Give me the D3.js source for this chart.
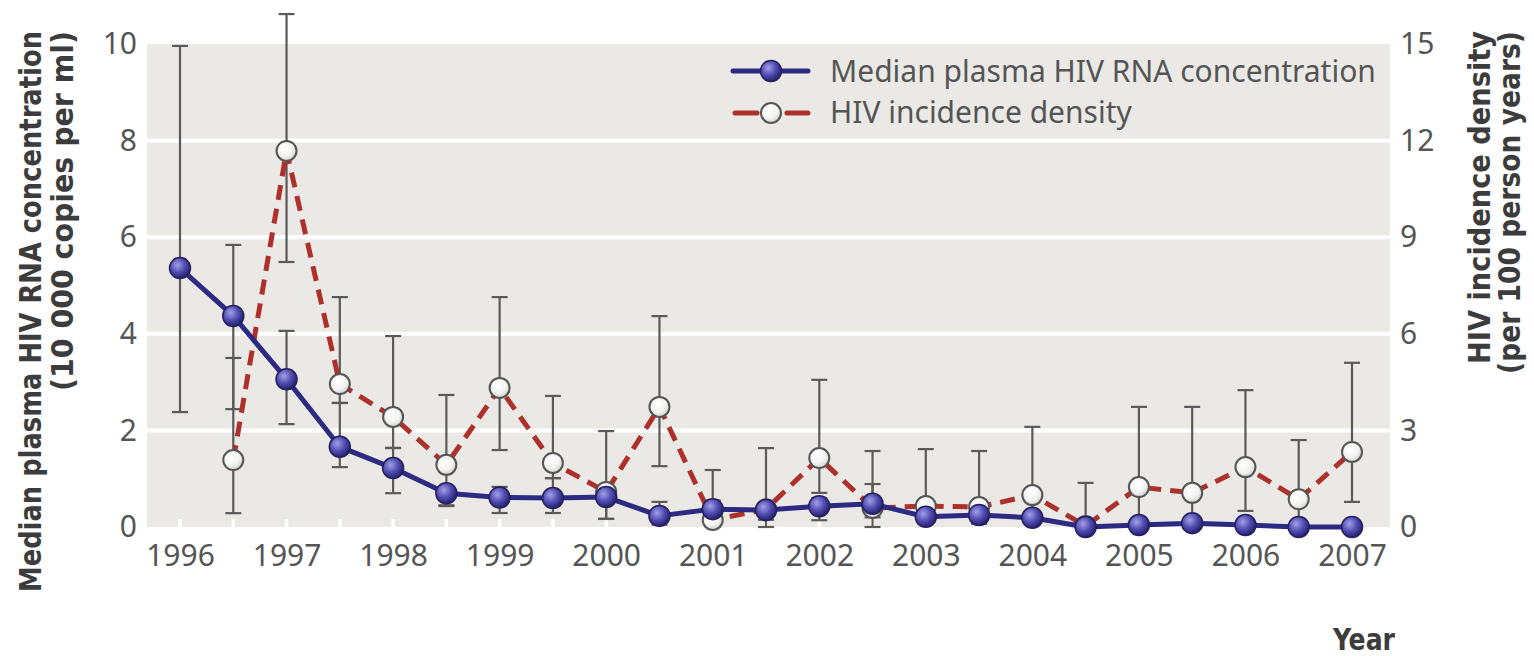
<!DOCTYPE html>
<meta charset="utf-8" />
<script src="https://d3js.org/d3.v7.min.js"></script>
<style>
  body { margin: 0; background: #fff; }
  text { font-family: "Noto Sans", "Open Sans", sans-serif; }
  .title { font-family: "Liberation Sans Narrow", "DejaVu Sans Condensed", sans-serif; font-weight: bold; fill: #3c3c3c; }
</style>

<svg width="1534" height="656" id="chart"></svg>

<script>
  // half-year time points
  var years = [1996, 1996.5, 1997, 1997.5, 1998, 1998.5, 1999, 1999.5, 2000, 2000.5, 2001, 2001.5,
               2002, 2002.5, 2003, 2003.5, 2004, 2004.5, 2005, 2005.5, 2006, 2006.5, 2007];

  // median plasma HIV RNA (10 000 copies per ml) with its interval
  var rna     = [5.36, 4.37, 3.06, 1.66, 1.22, 0.70, 0.61, 0.60, 0.62, 0.23, 0.37, 0.35,
                 0.43, 0.48, 0.21, 0.25, 0.19, 0.00, 0.04, 0.08, 0.04, 0.00, 0.00];
  var rnaLow  = [2.38, 2.44, 2.13, 1.24, 0.70, 0.45, 0.29, 0.29, 0.17, 0.05, 0.22, 0.15,
                 0.14, 0.20, 0.10, 0.10, 0.10, 0.00, 0.04, 0.08, 0.04, 0.00, 0.00];
  var rnaHigh = [9.96, 5.84, 4.06, 2.57, 1.64, 0.80, 0.83, 1.01, 0.75, 0.52, 0.55, 0.50,
                 0.60, 0.89, 0.35, 0.35, 0.25, 0.00, 0.04, 0.08, 0.04, 0.00, 0.00];

  // HIV incidence density (per 100 person years) with its interval
  var incidence = [null, 2.08, 11.68, 4.44, 3.42, 1.93, 4.32, 1.99, 1.09, 3.73, 0.22, 0.55,
                   2.14, 0.59, 0.65, 0.62, 0.99, 0.03, 1.24, 1.06, 1.86, 0.86, 2.33];
  var incLow    = [null, 0.43, 8.23, 3.85, 2.45, 0.65, 2.39, 1.52, 0.25, 1.89, 0.00, 0.00,
                   1.06, 0.00, 0.10, 0.10, 0.20, 0.00, 0.10, 0.10, 0.50, 0.00, 0.78];
  var incHigh   = [null, 5.25, 15.93, 7.14, 5.93, 4.10, 7.14, 4.07, 2.98, 6.55, 1.77, 2.45,
                   4.57, 2.36, 2.42, 2.36, 3.11, 1.37, 3.73, 3.73, 4.25, 2.70, 5.10];

  var yearTicks = [1996, 1997, 1998, 1999, 2000, 2001, 2002, 2003, 2004, 2005, 2006, 2007];
  var rnaTicks = [0, 2, 4, 6, 8, 10];
  var incTicks = [0, 3, 6, 9, 12, 15];
  var legendLabels = ["Median plasma HIV RNA concentration", "HIV incidence density"];

  var svg = d3.select("#chart");
  var plotLeft = 147, plotRight = 1390, plotTop = 44, plotBottom = 527;

  var x = d3.scaleLinear().domain([1996, 2007]).range([180, 1352]);
  var yL = d3.scaleLinear().domain([0, 10]).range([plotBottom, plotTop]);
  var yR = d3.scaleLinear().domain([0, 15]).range([plotBottom, plotTop]);

  var defs = svg.append("defs");
  var gb = defs.append("radialGradient").attr("id", "blueBall").attr("cx", "38%").attr("cy", "35%").attr("r", "65%");
  gb.append("stop").attr("offset", "0%").attr("stop-color", "#a2a0e8");
  gb.append("stop").attr("offset", "55%").attr("stop-color", "#514db2");
  gb.append("stop").attr("offset", "100%").attr("stop-color", "#25226f");
  var gw = defs.append("radialGradient").attr("id", "whiteBall").attr("cx", "40%").attr("cy", "35%").attr("r", "70%");
  gw.append("stop").attr("offset", "0%").attr("stop-color", "#ffffff");
  gw.append("stop").attr("offset", "60%").attr("stop-color", "#f1f3f1");
  gw.append("stop").attr("offset", "100%").attr("stop-color", "#c9ccc9");

  // plot background
  svg.append("rect")
    .attr("x", plotLeft).attr("y", plotTop)
    .attr("width", plotRight - plotLeft).attr("height", plotBottom - plotTop)
    .attr("fill", "#ebe9e6");

  // white gridlines
  svg.append("g").selectAll("line")
    .data(rnaTicks.filter(function (d) { return d > 0 && d < 10; }))
    .enter().append("line")
    .attr("x1", plotLeft).attr("x2", plotRight)
    .attr("y1", function (d) { return yL(d); }).attr("y2", function (d) { return yL(d); })
    .attr("stroke", "#fff").attr("stroke-width", 4);

  // white tick marks at the bottom
  svg.append("g").selectAll("line")
    .data(years)
    .enter().append("line")
    .attr("x1", function (d) { return x(d); }).attr("x2", function (d) { return x(d); })
    .attr("y1", plotBottom - 8).attr("y2", plotBottom)
    .attr("stroke", "#fff").attr("stroke-width", 3.5);

  // axes
  var axL = svg.append("g").attr("transform", "translate(" + plotLeft + ",0)")
    .call(d3.axisLeft(yL).tickValues(rnaTicks).tickSize(0).tickPadding(10));
  var axR = svg.append("g").attr("transform", "translate(" + plotRight + ",0)")
    .call(d3.axisRight(yR).tickValues(incTicks).tickSize(0).tickPadding(10));
  var axB = svg.append("g").attr("transform", "translate(0," + plotBottom + ")")
    .call(d3.axisBottom(x).tickValues(yearTicks).tickFormat(d3.format("d")).tickSize(0).tickPadding(18));
  [axL, axR, axB].forEach(function (ax) {
    ax.select(".domain").remove();
    ax.selectAll("text").style("font-family", "'Noto Sans', sans-serif").style("font-size", "30px").attr("fill", "#555");
  });

  // error bars
  function errorBars(lo, hi, y) {
    var idx = years.map(function (d, i) { return i; })
      .filter(function (i) { return lo[i] != null && hi[i] - lo[i] > 0.05; });
    var g = svg.append("g").attr("stroke", "#5a5a5a").attr("stroke-width", 2.2);
    idx.forEach(function (i) {
      var cx = x(years[i]);
      g.append("line").attr("x1", cx).attr("x2", cx).attr("y1", y(lo[i])).attr("y2", y(hi[i]));
      g.append("line").attr("x1", cx - 8).attr("x2", cx + 8).attr("y1", y(lo[i])).attr("y2", y(lo[i]));
      g.append("line").attr("x1", cx - 8).attr("x2", cx + 8).attr("y1", y(hi[i])).attr("y2", y(hi[i]));
    });
  }
  errorBars(rnaLow, rnaHigh, yL);
  errorBars(incLow, incHigh, yR);

  // incidence: dashed red line with open markers
  var incLine = d3.line()
    .defined(function (d) { return d.v != null; })
    .x(function (d) { return x(d.t); })
    .y(function (d) { return yR(d.v); });
  var incData = years.map(function (t, i) { return { t: t, v: incidence[i] }; });
  svg.append("path").datum(incData)
    .attr("d", incLine)
    .attr("fill", "none").attr("stroke", "#ad302b").attr("stroke-width", 5)
    .attr("stroke-dasharray", "15,9");
  svg.append("g").selectAll("circle")
    .data(incData.filter(function (d) { return d.v != null; }))
    .enter().append("circle")
    .attr("cx", function (d) { return x(d.t); })
    .attr("cy", function (d) { return yR(d.v); })
    .attr("r", 10)
    .attr("fill", "url(#whiteBall)").attr("stroke", "#555").attr("stroke-width", 2);

  // RNA: solid navy line with filled markers
  var rnaData = years.map(function (t, i) { return { t: t, v: rna[i] }; });
  svg.append("path").datum(rnaData)
    .attr("d", d3.line().x(function (d) { return x(d.t); }).y(function (d) { return yL(d.v); }))
    .attr("fill", "none").attr("stroke", "#2c2a82").attr("stroke-width", 5)
    .attr("stroke-linejoin", "round");
  svg.append("g").selectAll("circle")
    .data(rnaData)
    .enter().append("circle")
    .attr("cx", function (d) { return x(d.t); })
    .attr("cy", function (d) { return yL(d.v); })
    .attr("r", 10.5)
    .attr("fill", "url(#blueBall)").attr("stroke", "#24215f").attr("stroke-width", 1.5);

  // legend
  var lg = svg.append("g");
  lg.append("line").attr("x1", 733).attr("x2", 808).attr("y1", 71).attr("y2", 71)
    .attr("stroke", "#2c2a82").attr("stroke-width", 5).attr("stroke-linecap", "round");
  lg.append("circle").attr("cx", 771).attr("cy", 71).attr("r", 10.5)
    .attr("fill", "url(#blueBall)").attr("stroke", "#24215f").attr("stroke-width", 1.5);
  lg.append("line").attr("x1", 735).attr("x2", 808).attr("y1", 113).attr("y2", 113)
    .attr("stroke", "#ad302b").attr("stroke-width", 5).attr("stroke-dasharray", "22,30").attr("stroke-linecap", "round");
  lg.append("circle").attr("cx", 771).attr("cy", 113).attr("r", 10)
    .attr("fill", "url(#whiteBall)").attr("stroke", "#555").attr("stroke-width", 2);
  lg.selectAll("text").data(legendLabels).enter().append("text")
    .attr("x", 830).attr("y", function (d, i) { return 82 + i * 41; })
    .style("font-size", "30px").attr("fill", "#555")
    .text(function (d) { return d; });

  // axis titles (condensed bold, squeezed to the reference lengths)
  var leftTitle = ["Median plasma HIV RNA concentration", "(10 000 copies per ml)"];
  var leftLen = [561, 360];
  var rightTitle = ["HIV incidence density", "(per 100 person years)"];
  var rightLen = [333, 343];
  leftTitle.forEach(function (t, i) {
    svg.append("text").attr("class", "title")
      .attr("transform", "translate(" + (41 + i * 32) + ",31) rotate(-90)")
      .attr("text-anchor", "end").style("font-size", "30px")
      .attr("textLength", leftLen[i]).attr("lengthAdjust", "spacingAndGlyphs").text(t);
  });
  rightTitle.forEach(function (t, i) {
    svg.append("text").attr("class", "title")
      .attr("transform", "translate(" + (1490 + i * 30) + ",31) rotate(-90)")
      .attr("text-anchor", "end").style("font-size", "30px")
      .attr("textLength", rightLen[i]).attr("lengthAdjust", "spacingAndGlyphs").text(t);
  });
  svg.append("text").attr("class", "title")
    .attr("x", 1364).attr("y", 650).attr("text-anchor", "middle")
    .style("font-size", "31px").attr("textLength", 62).attr("lengthAdjust", "spacingAndGlyphs").text("Year");
</script>
